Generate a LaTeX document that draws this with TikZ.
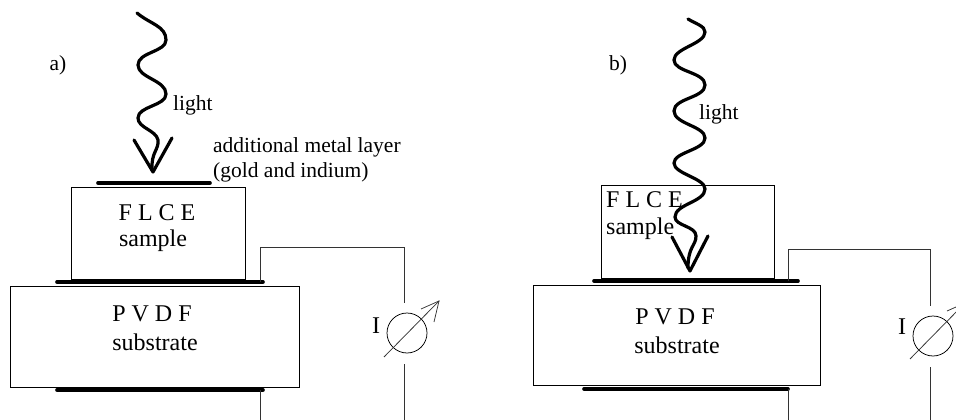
\documentclass[tikz,border=0pt]{standalone}
\usepackage{fontspec}
\setmainfont{Liberation Serif}
\tikzset{
  boxn/.style={draw=black,line width=0.9pt,inner sep=0pt,minimum width=#1},
  plate/.style={line width=3.6pt,line cap=round,black},
  wire/.style={line width=0.75pt,black!80},
  wave/.style={line width=3.2pt,line cap=round,line join=round,black},
  big/.style={inner sep=0pt,font=\fontsize{24}{24}\selectfont},
  small/.style={inner sep=0pt,font=\fontsize{21.5}{21.5}\selectfont},
  dot/.style={circle,draw=black,line width=0.75pt,minimum size=40pt,inner sep=0pt}
}
\begin{document}
\begin{tikzpicture}[x=1pt,y=-1pt]
\useasboundingbox (0,0) rectangle (956,420);
\clip (0,0) rectangle (956,420);
% panel a
\node[boxn=174pt,minimum height=92pt] (fa) at (158,233) {};
\node[boxn=289pt,minimum height=101pt] (pa) at (154.5,336.5) {};
\coordinate (a1) at (98,183); \coordinate (a2) at (210,183);
\coordinate (a3) at (57,282); \coordinate (a4) at (263,282);
\coordinate (a5) at (57,390); \coordinate (a6) at (263,390);
\draw[plate] (a1) -- (a2);
\draw[plate] (a3) -- (a4);
\draw[plate] (a5) -- (a6);
\node[dot] (ma) at (407,333) {};
\coordinate (wa1) at (260,282); \coordinate (wa2) at (260,247); \coordinate (wa3) at (404.5,247); \coordinate (wa4) at (404.5,303);
\coordinate (wa5) at (404.5,364); \coordinate (wa6) at (404.5,420); \coordinate (wa7) at (260,390); \coordinate (wa8) at (260,420);
\draw[wire] (wa1) -- (wa2) -- (wa3) -- (wa4);
\draw[wire] (wa5) -- (wa6);
\draw[wire] (wa7) -- (wa8);
\coordinate (na1) at (384,357); \coordinate (na2) at (439,301); \coordinate (na3) at (421,309); \coordinate (na4) at (434,322);
\draw[wire] (na1) -- (na2);
\draw[wire] (na3) -- (na2) -- (na4);
\draw[wave] (137,13) .. controls (150,24) and (166,26) .. (166,40)
  .. controls (166,52) and (138,52) .. (138,65)
  .. controls (138,78) and (166,80) .. (166,94)
  .. controls (166,106) and (138,106) .. (138,118)
  .. controls (138,128) and (156,130) .. (158,140)
  .. controls (159,150) and (151,152) .. (152,170);
\coordinate (va1) at (134,140); \coordinate (va2) at (153,172); \coordinate (va3) at (172,138);
\draw[wave] (va1) -- (va2) -- (va3);
\node[small] (la) at (58,65) {\raisebox{-2pt}{a)}};
\node[small,anchor=west] (lighta) at (173,105) {light};
\node[small,anchor=west] (add1) at (213,147) {additional metal layer};
\node[small,anchor=west] (add2) at (213,172) {(gold and indium)};
\node[big] (flcea) at (157,213) {F L C E};
\node[big] (sampa) at (153,241) {sample};
\node[big] (pvdfa) at (152,314) {P V D F};
\node[big] (suba) at (155,342) {substrate};
\node[big] (ia) at (376,326) {I};
% panel b
\node[boxn=173pt,minimum height=93pt] (fb) at (687.5,231.5) {};
\node[boxn=287pt,minimum height=100pt] (pb) at (676.5,335) {};
\coordinate (b3) at (594,281); \coordinate (b4) at (798,281);
\coordinate (b5) at (584,389); \coordinate (b6) at (788,389);
\draw[plate] (b3) -- (b4);
\draw[plate] (b5) -- (b6);
\node[dot] (mb) at (933,336) {};
\coordinate (wb1) at (788,281); \coordinate (wb2) at (788,249); \coordinate (wb3) at (930,249); \coordinate (wb4) at (930,306);
\coordinate (wb5) at (930,367); \coordinate (wb6) at (930,420); \coordinate (wb7) at (788,389); \coordinate (wb8) at (788,420);
\draw[wire] (wb1) -- (wb2) -- (wb3) -- (wb4);
\draw[wire] (wb5) -- (wb6);
\draw[wire] (wb7) -- (wb8);
\coordinate (nb1) at (910,359); \coordinate (nb2) at (965,303); \coordinate (nb3) at (947,311); \coordinate (nb4) at (960,324);
\draw[wire] (nb1) -- (nb2);
\draw[wire] (nb3) -- (nb2) -- (nb4);
\draw[wave] (688,19) .. controls (696,24) and (705,26) .. (705,32)
  .. controls (705,44) and (674,48) .. (674,60)
  .. controls (674,72) and (705,72) .. (705,85)
  .. controls (705,98) and (674,98) .. (674,111)
  .. controls (674,124) and (705,126) .. (705,138)
  .. controls (705,150) and (674,152) .. (674,163)
  .. controls (674,174) and (705,178) .. (705,189)
  .. controls (705,202) and (675,204) .. (675,217)
  .. controls (675,226) and (696,226) .. (696,236)
  .. controls (696,246) and (688,246) .. (688,268);
\coordinate (vb1) at (672,237); \coordinate (vb2) at (690,271); \coordinate (vb3) at (708,236);
\draw[wave] (vb1) -- (vb2) -- (vb3);
\node[small] (lb) at (618,65) {b)};
\node[small,anchor=west] (lightb) at (699,114) {light};
\node[big,anchor=west] (flceb) at (606,200) {F L C E};
\node[big,anchor=west] (sampb) at (606,229) {sample};
\node[big] (pvdfb) at (675,317) {P V D F};
\node[big] (subb) at (677,345) {substrate};
\node[big] (ib) at (902,327) {I};
\end{tikzpicture}
\end{document}
